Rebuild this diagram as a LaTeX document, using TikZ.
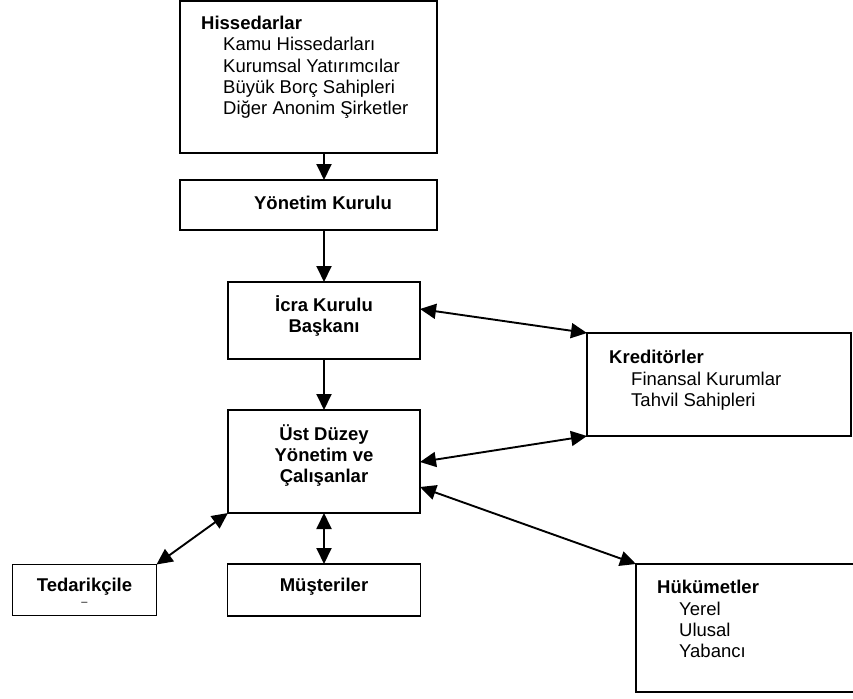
\documentclass[tikz,border=0pt]{standalone}
\usepackage{fontspec}
\setmainfont{Liberation Sans}
\usetikzlibrary{positioning, arrows.meta}

\begin{document}
\begin{tikzpicture}[
x=1pt, y=-1pt,
>={Triangle[length=16pt, width=15pt]},
every node/.style={font=\fontsize{18.5pt}{21.3pt}\selectfont, inner sep=0pt},
box/.style={rectangle, draw, line width=1.9pt, outer sep=0pt},
title/.style={font=\fontsize{18.5pt}{21.3pt}\selectfont\bfseries, align=center},
list/.style={align=left, anchor=base west},
line/.style={->, line width=1.9pt},
bline/.style={<->, line width=1.9pt}
]
\useasboundingbox (0,0) rectangle (853,698);

% Boxes
\node[box, minimum width=257pt, minimum height=152pt, anchor=north west] (hisse) at (180,1) {};
\node[box, minimum width=257pt, minimum height=50pt, below=27pt of hisse] (yonetim) {};
\node[box, minimum width=192pt, minimum height=77pt, below=52pt of yonetim, xshift=15.5pt] (icra) {};
\node[box, minimum width=192pt, minimum height=103pt, below=51pt of icra] (ust) {};
\node[box, minimum width=193pt, minimum height=52pt, below=51pt of ust] (muster) {};
\node[box, minimum width=144pt, minimum height=51pt, left=71pt of muster] (tedarik) {};
\node[box, minimum width=264pt, minimum height=103pt, anchor=north west] (kredi) at (587,333) {};
\node[box, minimum width=219pt, minimum height=128pt, anchor=north west] (hukum) at (636,564) {};

% Texts (list nodes sit on the baseline of their last line)
\node[list] (hissetxt) at ([shift={(21pt,-113.9pt)}]hisse.north west) {\textbf{Hissedarlar}\\\hspace*{22pt}Kamu Hissedarları\\\hspace*{22pt}Kurumsal Yatırımcılar\\\hspace*{22pt}Büyük Borç Sahipleri\\\hspace*{22pt}Diğer Anonim Şirketler};
\node[title] (yonetimtxt) at ([shift={(14.5pt,2pt)}]yonetim.center) {Yönetim Kurulu};
\node[title] (icratxt) at ([yshift=4.5pt]icra.center) {İcra Kurulu\\Başkanı};
\node[title] (usttxt) at ([yshift=6pt]ust.center) {Üst Düzey\\Yönetim ve\\Çalışanlar};
\node[title] (mustertxt) at ([yshift=3pt]muster.center) {Müşteriler};
\node[title] (tedariktxt) at ([yshift=3.5pt]tedarik.center) {Tedarikçile};
\node[font=\fontsize{11pt}{11pt}\selectfont] (tedarikr) at ([yshift=-14pt]tedarik.center) {–};
\node[list] (kreditxt) at ([shift={(22pt,-73.3pt)}]kredi.north west) {\textbf{Kreditörler}\\\hspace*{22pt}Finansal Kurumlar\\\hspace*{22pt}Tahvil Sahipleri};
\node[list] (hukumtxt) at ([shift={(21pt,-93.6pt)}]hukum.north west) {\textbf{Hükümetler}\\\hspace*{22pt}Yerel\\\hspace*{22pt}Ulusal\\\hspace*{22pt}Yabancı};

% Connections
\draw[line] (hisse.south -| icra.north) -- (yonetim.north -| icra.north);
\draw[line] (yonetim.south -| icra.north) -- (icra.north);
\draw[line] (icra) -- (ust);
\draw[bline] (ust) -- (muster);
\draw[bline] ([yshift=-27pt]icra.north east) -- (kredi.north west);
\draw[bline] ([yshift=-52pt]ust.north east) -- (kredi.south west);
\draw[bline] ([yshift=-77pt]ust.north east) -- (hukum.north west);
\draw[bline] (tedarik.north east) -- (ust.south west);

\end{tikzpicture}
\end{document}
